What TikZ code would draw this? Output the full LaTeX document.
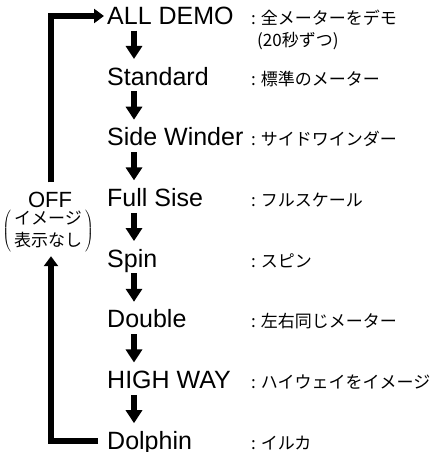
\documentclass[tikz,border=0pt]{standalone}
\usepackage{fontspec}
\setmainfont{Liberation Sans}
\newfontfamily\jpfont{Noto Sans CJK JP}
\usetikzlibrary{arrows.meta,positioning,calc}

\tikzset{
  mode/.style={inner sep=0pt, text height=17bp, text depth=0pt, font=\fontsize{25bp}{28bp}\selectfont},
  note/.style={anchor=base west, inner sep=0pt, font=\jpfont\fontsize{17bp}{23bp}\selectfont},
  nextarrow/.style={line width=5.5bp, -{Triangle[width=16bp,length=13bp]}, shorten <=6bp, shorten >=9bp},
  backline/.style={line width=6bp, -{Triangle[width=14bp,length=10bp]}},
}

\begin{document}
\begin{tikzpicture}
\useasboundingbox (0,0) rectangle (437bp,-452bp);
\coordinate (ax) at (134bp,0);
\coordinate (lx) at (51bp,0);
\coordinate (colx) at (251bp,0);

% modes
\node[mode, anchor=base west] (demo) at (107bp,-24.5bp) {ALL DEMO};
\node[mode, below=43.3bp of demo.south west, anchor=north west] (std) {Standard};
\node[mode, below=43.3bp of std.south west, anchor=north west] (side) {Side Winder};
\node[mode, below=43.3bp of side.south west, anchor=north west] (full) {Full Sise};
\node[mode, below=43.3bp of full.south west, anchor=north west] (spin) {Spin};
\node[mode, below=43.3bp of spin.south west, anchor=north west] (double) {Double};
\node[mode, below=43.3bp of double.south west, anchor=north west] (highway) {HIGH WAY};
\node[mode, below=43.3bp of highway.south west, anchor=north west] (dolphin) {Dolphin};

% notes
\node[note] (demonote) at (colx |- demo.base) {:\hspace{5bp}全メーターをデモ};
\node[note, below=6bp of demonote.south west, anchor=north west, xshift=6bp] (demotime) {(20秒ずつ)};
\node[note] (stdnote) at (colx |- std.base) {:\hspace{5bp}標準のメーター};
\node[note] (sidenote) at (colx |- side.base) {:\hspace{5bp}サイドワインダー};
\node[note] (fullnote) at (colx |- full.base) {:\hspace{5bp}フルスケール};
\node[note] (spinnote) at (colx |- spin.base) {:\hspace{5bp}スピン};
\node[note] (doublenote) at (colx |- double.base) {:\hspace{5bp}左右同じメーター};
\node[note] (highwaynote) at (colx |- highway.base) {:\hspace{5bp}ハイウェイをイメージ};
\node[note] (dolphinnote) at (colx |- dolphin.base) {:\hspace{5bp}イルカ};

% off
\node[inner sep=0pt, anchor=base, font=\fontsize{22bp}{24bp}\selectfont] (off) at (50bp,-207bp) {OFF};
\node[inner sep=0pt, font=\jpfont\fontsize{17bp}{22bp}\selectfont] (offnote) at (48bp,-231bp)
  {$\left(\begin{tabular}{@{\hspace{3bp}}c@{\hspace{3bp}}}イメージ\\表示なし\end{tabular}\right)$};

\draw[nextarrow] (demo.south -| ax) -- (std.north -| ax);
\draw[nextarrow] (std.south -| ax) -- (side.north -| ax);
\draw[nextarrow] (side.south -| ax) -- (full.north -| ax);
\draw[nextarrow] (full.south -| ax) -- (spin.north -| ax);
\draw[nextarrow] (spin.south -| ax) -- (double.north -| ax);
\draw[nextarrow] (double.south -| ax) -- (highway.north -| ax);
\draw[nextarrow] (highway.south -| ax) -- (dolphin.north -| ax);

\draw[backline, shorten <=9bp, shorten >=3bp] (off.north -| lx) |- (demo.west);
\draw[backline, shorten <=9bp, shorten >=3bp] (dolphin.west) -| (lx |- offnote.south);
\end{tikzpicture}
\end{document}
